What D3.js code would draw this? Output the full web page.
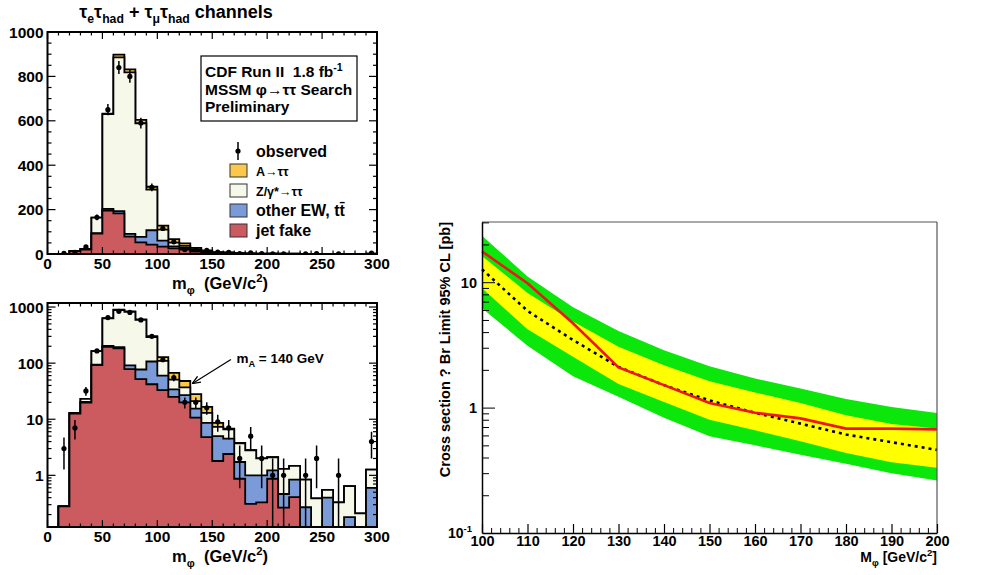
<html>

<head>
<meta charset="utf-8">
<style>
    body { margin: 0; background: #fff; }
    svg text { font-family: "Liberation Sans", Arial, sans-serif; font-weight: bold; fill: #000; white-space: pre; }
</style>
</head>

<body>
    <svg id="chart" width="983" height="575"></svg>
</body>
<script src="https://cdnjs.cloudflare.com/ajax/libs/d3/7.8.5/d3.min.js"></script>
<script>
    // ---- left panels: m_phi histograms, 10 GeV bins ----
    const binLow = [0, 10, 20, 30, 40, 50, 60, 70, 80, 90, 100, 110, 120, 130, 140,
        150, 160, 170, 180, 190, 200, 210, 220, 230, 240, 250, 260, 270, 280, 290];
    const jetFake = [0, 0.28, 12.6, 19.8, 92, 196, 183, 78, 52, 42, 33, 25, 20, 10.7, 4.8,
        1.8, 2.4, 0.87, 0.31, 0.33, 0.87, 0.265, 0.41, 0, 0, 0, 0, 0, 0, 0];
    const otherEW = [0, 0, 0.2, 0.5, 2, 7, 10, 13, 25, 65, 27, 9, 7, 4.8, 3.8,
        3.2, 2.1, 0.86, 0.69, 0.67, 0.36, 0.2, 0.43, 0.27, 0, 0.4, 0, 0.18, 0, 0.6];
    const zTauTau = [0, 0, 0.2, 2.7, 70, 427, 693, 727, 512, 183, 50, 17, 10, 5.5, 4.4,
        2.3, 2.1, 2.0, 1.8, 1.0, 0.87, 0.84, 0.63, 0.57, 0.39, 0.15, 0.33, 0.46, 0.21, 0.66];
    const aTauTau = [0, 0, 0, 0, 0, 2, 12, 14, 15, 13, 18, 16, 11, 7, 3.6,
        1.3, 0.2, 0.07, 0, 0, 0, 0, 0, 0, 0, 0, 0, 0, 0, 0];
    const observed = [0, 3, 7, 32, 165, 650, 840, 800, 590, 300, 115, 55, 20, 20, 16,
        9, 7, 2, 5, 2, 1, 1, 0, 1, 2, 0, 1, 0, 0, 4];

    // ---- right panel: 95% CL limits ----
    const massPoints = [100, 110, 120, 130, 140, 150, 160, 170, 180, 190, 200];
    const obsLimit = [17.6, 9.8, 4.7, 2.09, 1.51, 1.09, 0.91, 0.82, 0.68, 0.68, 0.67];
    const expLimit = [12.7, 5.9, 3.46, 2.11, 1.51, 1.14, 0.91, 0.745, 0.61, 0.53, 0.46];
    const band2Up = [23.5, 11.1, 6.3, 4.08, 2.87, 2.14, 1.71, 1.42, 1.17, 1.01, 0.906];
    const band1Up = [16.2, 8.2, 4.85, 3.06, 2.18, 1.62, 1.32, 1.09, 0.87, 0.74, 0.68];
    const band1Dn = [8.95, 4.21, 2.54, 1.54, 1.11, 0.80, 0.66, 0.54, 0.434, 0.367, 0.331];
    const band2Dn = [6.2, 3.11, 1.78, 1.22, 0.83, 0.59, 0.50, 0.42, 0.357, 0.30, 0.262];

    const colors = { fake: "#cc5b60", ew: "#7b9bd8", z: "#f6f8ea", a: "#fcc84c" };

    const svg = d3.select('#chart');

    // rich text helper: parts = [[text, 'sub'|'sup'|null], ...]
    function richText(g, x, y, parts, size, anchor) {
        const t = g.append('text').attr('x', x).attr('y', y)
            .attr('font-size', size).attr('text-anchor', anchor || 'start');
        let shift = 0;
        parts.forEach(p => {
            const target = p[1] === 'sub' ? size * 0.3 : p[1] === 'sup' ? -size * 0.4 : 0;
            t.append('tspan').text(p[0])
                .attr('dy', target - shift)
                .attr('font-size', p[1] ? size * 0.68 : size);
            shift = target;
        });
        return t;
    }

    const cum1 = jetFake;
    const cum2 = cum1.map((v, i) => v + otherEW[i]);
    const cum3 = cum2.map((v, i) => v + zTauTau[i]);
    const cum4 = cum3.map((v, i) => v + aTauTau[i]);

    function histPanel(x, y, base, isLog) {
        const g = svg.append('g');
        const clipId = 'clip' + Math.round(y.range()[1]);
        g.append('clipPath').attr('id', clipId).append('rect')
            .attr('x', x.range()[0]).attr('y', y.range()[1])
            .attr('width', x.range()[1] - x.range()[0]).attr('height', y.range()[0] - y.range()[1]);
        const body = g.append('g').attr('clip-path', `url(#${clipId})`);

        const layers = [[cum4, colors.a], [cum3, colors.z], [cum2, colors.ew], [cum1, colors.fake]];
        layers.forEach(([vals, col]) => {
            const pts = binLow.map((b, i) => [b, vals[i]]);
            pts.push([300, vals[vals.length - 1]]);
            const area = d3.area().curve(d3.curveStepAfter)
                .x(d => x(d[0]))
                .y0(y(base))
                .y1(d => y(Math.max(d[1], base)));
            body.append('path').attr('d', area(pts))
                .attr('fill', col).attr('stroke', '#000').attr('stroke-width', 1.8)
                .attr('stroke-linejoin', 'miter');
        });

        // observed points with sqrt(N) errors
        binLow.forEach((b, i) => {
            const n = observed[i];
            if (n <= 0) return;
            const cx = x(b + 5);
            const lo = Math.max(n - Math.sqrt(n), base), hi = n + Math.sqrt(n);
            body.append('line').attr('x1', cx).attr('x2', cx)
                .attr('y1', y(lo)).attr('y2', y(hi))
                .attr('stroke', '#000').attr('stroke-width', 1.5);
            body.append('circle').attr('cx', cx).attr('cy', y(n)).attr('r', 2.6).attr('fill', '#000');
        });

        // frame
        g.append('rect').attr('x', x.range()[0]).attr('y', y.range()[1])
            .attr('width', x.range()[1] - x.range()[0]).attr('height', y.range()[0] - y.range()[1])
            .attr('fill', 'none').attr('stroke', '#000').attr('stroke-width', 2);

        const x0 = x.range()[0], x1 = x.range()[1], y0 = y.range()[0], y1 = y.range()[1];
        // x ticks (inside, bottom and top)
        const xMajor = [0, 50, 100, 150, 200, 250, 300];
        const xMinor = binLow.filter(v => v % 50 !== 0);
        [[y0, -1], [y1, 1]].forEach(([yy, dir]) => {
            xMajor.forEach(v => g.append('line').attr('x1', x(v)).attr('x2', x(v))
                .attr('y1', yy).attr('y2', yy + dir * 7).attr('stroke', '#000').attr('stroke-width', 1.2));
            xMinor.forEach(v => g.append('line').attr('x1', x(v)).attr('x2', x(v))
                .attr('y1', yy).attr('y2', yy + dir * 3.5).attr('stroke', '#000').attr('stroke-width', 1.2));
        });
        xMajor.forEach(v => g.append('text').attr('x', x(v)).attr('y', y0 + 15)
            .attr('text-anchor', 'middle').attr('font-size', 15.5).text(v));

        let yMajor, yMinor;
        if (isLog) {
            yMajor = [1, 10, 100, 1000];
            yMinor = [];
            [0.1, 1, 10, 100, 1000].forEach(d => [2, 3, 4, 5, 6, 7, 8, 9].forEach(k => {
                const v = d * k;
                if (v > base && v < y.domain()[1]) yMinor.push(v);
            }));
        } else {
            yMajor = [0, 200, 400, 600, 800, 1000];
            yMinor = [50, 100, 150, 250, 300, 350, 450, 500, 550, 650, 700, 750, 850, 900, 950];
        }
        [[x0, 1], [x1, -1]].forEach(([xx, dir]) => {
            yMajor.forEach(v => g.append('line').attr('y1', y(v)).attr('y2', y(v))
                .attr('x1', xx).attr('x2', xx + dir * 8).attr('stroke', '#000').attr('stroke-width', 1.2));
            yMinor.forEach(v => g.append('line').attr('y1', y(v)).attr('y2', y(v))
                .attr('x1', xx).attr('x2', xx + dir * 4).attr('stroke', '#000').attr('stroke-width', 1.2));
        });
        yMajor.forEach(v => g.append('text').attr('x', x0 - 4).attr('y', y(v) + 5.5)
            .attr('text-anchor', 'end').attr('font-size', 15.5).text(v));

        // x title
        richText(g, 220, y0 + 35, [['m', null], ['φ', 'sub'], ['  (GeV/c', null], ['2', 'sup'], [')', null]], 16.5, 'middle');
        return g;
    }

    // top linear panel
    const xTop = d3.scaleLinear().domain([0, 300]).range([47.5, 377]);
    const yTop = d3.scaleLinear().domain([0, 1000]).range([254, 32]);
    const gTop = histPanel(xTop, yTop, 0, false);

    // bottom log panel
    const xBot = d3.scaleLinear().domain([0, 300]).range([47.5, 377]);
    const yBot = d3.scaleLog().domain([0.12, 1180]).range([527, 303]);
    const gBot = histPanel(xBot, yBot, 0.12, true);

    // title
    richText(svg, 176, 18, [['τ', null], ['e', 'sub'], ['τ', null], ['had', 'sub'], [' + τ', null], ['μ', 'sub'],
        ['τ', null], ['had', 'sub'], [' channels', null]], 18, 'middle');

    // legend box
    gTop.append('rect').attr('x', 201).attr('y', 56).attr('width', 156).attr('height', 65)
        .attr('fill', '#fff').attr('stroke', '#000').attr('stroke-width', 1.2);
    richText(gTop, 205, 77, [['CDF Run II  1.8 fb', null], ['-1', 'sup']], 15.5);
    gTop.append('text').attr('x', 205).attr('y', 95).attr('font-size', 15.5).text('MSSM φ→ττ Search');
    gTop.append('text').attr('x', 205).attr('y', 112).attr('font-size', 15.5).text('Preliminary');

    gTop.append('line').attr('x1', 238).attr('x2', 238).attr('y1', 142).attr('y2', 160)
        .attr('stroke', '#000').attr('stroke-width', 1.5);
    gTop.append('circle').attr('cx', 238).attr('cy', 151).attr('r', 2.6).attr('fill', '#000');
    gTop.append('text').attr('x', 256).attr('y', 157).attr('font-size', 16).text('observed');

    const legendItems = [
        [colors.a, 'A→ττ', 12.5, 164],
        [colors.z, 'Z/γ*→ττ', 12.5, 184],
        [colors.ew, 'other EW, tt̄', 16, 204],
        [colors.fake, 'jet fake', 16, 224]
    ];
    legendItems.forEach(([col, label, fs, yy]) => {
        gTop.append('rect').attr('x', 230).attr('y', yy).attr('width', 17).attr('height', 13)
            .attr('fill', col).attr('stroke', '#333').attr('stroke-width', 1);
        gTop.append('text').attr('x', 256).attr('y', yy + 11.5).attr('font-size', fs).text(label);
    });

    // m_A annotation on log panel
    const defs = svg.append('defs');
    defs.append('marker').attr('id', 'arrow').attr('viewBox', '0 0 10 10')
        .attr('refX', 9).attr('refY', 5).attr('markerWidth', 7).attr('markerHeight', 7)
        .attr('orient', 'auto')
        .append('path').attr('d', 'M0,1 L10,5 L0,9').attr('fill', 'none').attr('stroke', '#000').attr('stroke-width', 1.5);
    gBot.append('line').attr('x1', xBot(167)).attr('y1', yBot(116)).attr('x2', xBot(132.4)).attr('y2', yBot(44))
        .attr('stroke', '#000').attr('stroke-width', 1.2).attr('marker-end', 'url(#arrow)');
    richText(gBot, xBot(172), yBot(100), [['m', null], ['A', 'sub'], [' = 140 GeV', null]], 13.5);

    // ---- right panel ----
    const xR = d3.scaleLinear().domain([100, 200]).range([482, 937]);
    const yR = d3.scaleLog().domain([0.1, 30.2]).range([533, 222]);
    const gR = svg.append('g');

    const band = (lo, hi) => d3.area()
        .x((d, i) => xR(massPoints[i]))
        .y0((d, i) => yR(lo[i]))
        .y1((d, i) => yR(hi[i]));
    gR.append('path').attr('d', band(band2Dn, band2Up)(massPoints)).attr('fill', '#0be60b');
    gR.append('path').attr('d', band(band1Dn, band1Up)(massPoints)).attr('fill', '#ffff00');

    const lineOf = vals => d3.line().x((d, i) => xR(massPoints[i])).y((d, i) => yR(vals[i]))(massPoints);
    gR.append('path').attr('d', lineOf(expLimit)).attr('fill', 'none')
        .attr('stroke', '#000').attr('stroke-width', 2.6).attr('stroke-dasharray', '3,4');
    gR.append('path').attr('d', lineOf(obsLimit)).attr('fill', 'none')
        .attr('stroke', '#f0141e').attr('stroke-width', 2.6);

    // frame: grey top/right, black axes
    gR.append('line').attr('x1', 482).attr('x2', 937).attr('y1', 222).attr('y2', 222).attr('stroke', '#555').attr('stroke-width', 1.2);
    gR.append('line').attr('x1', 937).attr('x2', 937).attr('y1', 222).attr('y2', 533).attr('stroke', '#555').attr('stroke-width', 1.2);

    const xAxisR = d3.axisBottom(xR).tickValues(massPoints).tickSize(-9).tickPadding(3).tickSizeOuter(0);
    const gxR = gR.append('g').attr('transform', 'translate(0,533)').call(xAxisR);
    gxR.select('.domain').attr('stroke-width', 1.5);
    gxR.selectAll('.tick line').attr('stroke-width', 1.2);
    gxR.selectAll('text').attr('font-size', 14.5).attr('font-family', null);
    const xMinorR = [];
    massPoints.slice(0, -1).forEach(m => [2, 4, 6, 8].forEach(k => xMinorR.push(m + k)));
    gR.append('g').attr('transform', 'translate(0,533)')
        .call(d3.axisBottom(xR).tickValues(xMinorR).tickSize(-5).tickFormat(''))
        .call(a => a.select('.domain').remove());

    const yAxisR = d3.axisLeft(yR).tickValues([1, 10]).tickSize(-13).tickPadding(5)
        .tickFormat(d3.format('d')).tickSizeOuter(0);
    const gyR = gR.append('g').attr('transform', 'translate(482,0)').call(yAxisR);
    gyR.select('.domain').attr('stroke-width', 1.5);
    gyR.selectAll('text').attr('font-size', 14.5).attr('font-family', null)
        .attr('x', -5).attr('text-anchor', 'end').attr('dy', '0.36em');
    const yMinorR = [0.2, 0.3, 0.4, 0.5, 0.6, 0.7, 0.8, 0.9, 2, 3, 4, 5, 6, 7, 8, 9, 20, 30];
    gR.append('g').attr('transform', 'translate(482,0)')
        .call(d3.axisLeft(yR).tickValues(yMinorR).tickSize(-7).tickFormat(''))
        .call(a => a.select('.domain').remove());
    richText(gR, 472, 538, [['10', null], ['-1', 'sup']], 14, 'end');

    richText(gR, 937, 562, [['M', null], ['φ', 'sub'], [' [GeV/c', null], ['2', 'sup'], [']', null]], 14, 'end');
    richText(gR, 0, 0, [['Cross section ? Br Limit 95% CL [pb]', null]], 14.5, 'end')
        .attr('transform', 'translate(450,222) rotate(-90)');
</script>

</html>
